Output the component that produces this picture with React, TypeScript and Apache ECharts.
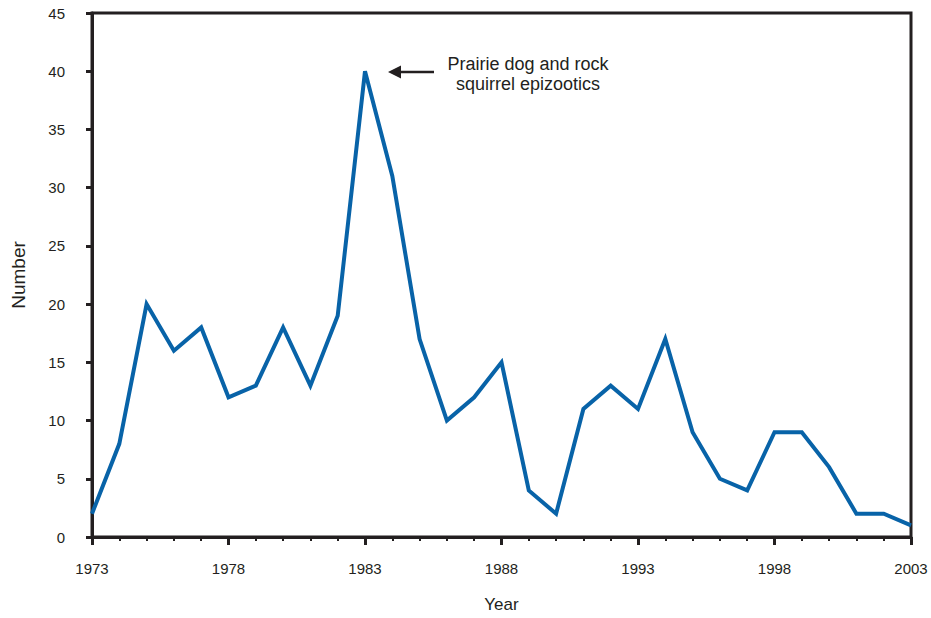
import React, { useEffect, useRef } from "react";
import * as echarts from "echarts";

const years = [1973,1974,1975,1976,1977,1978,1979,1980,1981,1982,1983,1984,1985,1986,1987,1988,1989,1990,1991,1992,1993,1994,1995,1996,1997,1998,1999,2000,2001,2002,2003];
const counts = [2,8,20,16,18,12,13,18,13,19,40,31,17,10,12,15,4,2,11,13,11,17,9,5,4,9,9,6,2,2,1];
const annotationLines = ["Prairie dog and rock", "squirrel epizootics"];

const FONT = "'Liberation Sans', Arial, Helvetica, sans-serif";
const INK = "#231f20";

export default function App() {
  const ref = useRef<HTMLDivElement>(null);
  useEffect(() => {
    if (!ref.current) return;
    const chart = echarts.init(ref.current, null, { renderer: "svg" });
    chart.setOption({
      animation: false,
      backgroundColor: "#ffffff",
      grid: { left: 92, right: 20, top: 13, bottom: 75, show: true, borderColor: INK, borderWidth: 3 },
      xAxis: {
        type: "value",
        min: 1973,
        max: 2003,
        interval: 5,
        name: "Year",
        nameLocation: "middle",
        nameGap: 59,
        nameTextStyle: { fontFamily: FONT, fontSize: 17, color: INK },
        axisLine: { show: true, lineStyle: { color: INK, width: 3 } },
        axisTick: { show: true, length: 8, lineStyle: { color: INK, width: 3 } },
        minorTick: { show: true, splitNumber: 5, length: 4, lineStyle: { color: INK, width: 2 } },
        axisLabel: { fontFamily: FONT, fontSize: 15, color: INK, margin: 24, formatter: (v: number) => String(v) },
        splitLine: { show: false },
      },
      yAxis: {
        type: "value",
        min: 0,
        max: 45,
        interval: 5,
        name: "Number",
        nameLocation: "middle",
        nameGap: 64,
        nameRotate: 90,
        nameTextStyle: { fontFamily: FONT, fontSize: 19, color: INK },
        axisLine: { show: true, lineStyle: { color: INK, width: 3 } },
        axisTick: { show: true, length: 6, lineStyle: { color: INK, width: 3 } },
        axisLabel: { fontFamily: FONT, fontSize: 15, color: INK, margin: 27 },
        splitLine: { show: false },
      },
      series: [
        {
          type: "line",
          data: years.map((y, i) => [y, counts[i]]),
          showSymbol: false,
          symbol: "none",
          lineStyle: { color: "#0863a8", width: 4, join: "miter" },
          z: 1,
        },
      ],
      graphic: [
        { type: "line", shape: { x1: 434, y1: 72, x2: 398, y2: 72 }, style: { stroke: INK, lineWidth: 2.5 } },
        { type: "polygon", shape: { points: [[388, 72], [401, 65.5], [401, 78.5]] }, style: { fill: INK } },
        {
          type: "text",
          x: 528,
          y: 74,
          style: {
            text: annotationLines.join("\n"),
            fontFamily: FONT,
            fontSize: 18,
            lineHeight: 20,
            fill: INK,
            align: "center",
            verticalAlign: "middle",
          },
        },
      ],
    });
    return () => chart.dispose();
  }, []);
  return <div ref={ref} style={{ position: "fixed", left: 0, top: 0, width: 931, height: 618 }} />;
}
